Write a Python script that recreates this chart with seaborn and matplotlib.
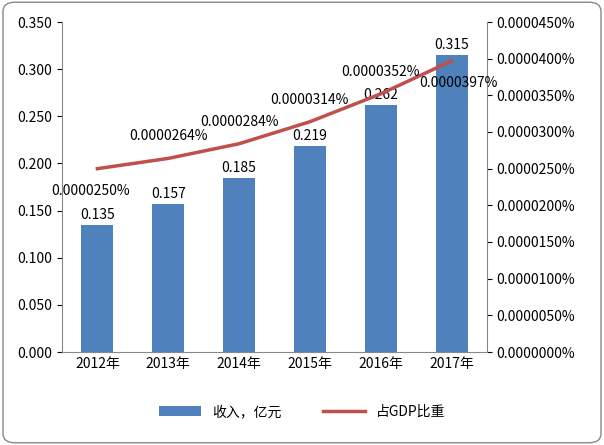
import matplotlib
matplotlib.use("Agg")
import matplotlib.pyplot as plt
from matplotlib.patches import FancyBboxPatch
import seaborn as sns
import pandas as pd

years = ["2012年", "2013年", "2014年", "2015年", "2016年", "2017年"]
income = [0.135, 0.157, 0.185, 0.219, 0.262, 0.315]
gdp_share = [0.0000250, 0.0000264, 0.0000284, 0.0000314, 0.0000352, 0.0000397]
gdp_labels = ["0.0000250%", "0.0000264%", "0.0000284%", "0.0000314%", "0.0000352%", "0.0000397%"]

plt.rcParams["font.family"] = ["Noto Sans CJK SC"]
fig = plt.figure(figsize=(6.04, 4.45), dpi=100)
fig.patches.append(FancyBboxPatch((0.005, 0.005), 0.99, 0.99, boxstyle="round,pad=0,rounding_size=0.02",
                                  transform=fig.transFigure, fc="white", ec="#888888", lw=1, zorder=-10))
ax = fig.add_axes([62/604, 93/445, 425/604, 330/445])
ax.set_facecolor("none")
df = pd.DataFrame({"year": years, "income": income})
sns.barplot(data=df, x="year", y="income", color="#4F81BD", width=0.45, ax=ax, saturation=1,
            label="收入，亿元")
ax.set_ylim(0, 0.35)
ax.set_yticks([i*0.05 for i in range(8)])
ax.set_yticklabels([f"{i*0.05:.3f}" for i in range(8)], fontsize=10)
ax.set_xlabel(""); ax.set_ylabel("")
ax.tick_params(axis="x", labelsize=10, length=0)
for i, v in enumerate(income):
    ax.text(i, v + 0.003, f"{v:.3f}", ha="center", va="bottom", fontsize=10)
for s in ["top", "right"]:
    ax.spines[s].set_visible(False)
for s in ["left", "bottom"]:
    ax.spines[s].set_color("#888888")

ax2 = ax.twinx()
sns.lineplot(x=list(range(6)), y=gdp_share, color="#C0504D", lw=2.5, ax=ax2, label="占GDP比重")
ax2.set_ylim(0, 0.000045)
ax2.set_yticks([i*0.000005 for i in range(10)])
ax2.set_yticklabels([f"{i*0.0000050:.7f}%" for i in range(10)], fontsize=10)
for s in ["top", "left"]:
    ax2.spines[s].set_visible(False)
ax2.spines["right"].set_color("#888888")
ax2.spines["bottom"].set_visible(False)
offs = [(-0.1, -0.0000030), (0, 0.0000030), (0, 0.0000030), (0, 0.0000030), (0, 0.0000030), (0.1, -0.0000030)]
for i, (v, lab) in enumerate(zip(gdp_share, gdp_labels)):
    ax2.text(i + offs[i][0], v + offs[i][1], lab, ha="center", va="center", fontsize=10)
ax2.get_legend().remove()
ax.set_xlim(-0.5, 5.5)

h1, l1 = ax.get_legend_handles_labels()
h2, l2 = ax2.get_legend_handles_labels()
if ax.get_legend(): ax.get_legend().remove()
fig.legend(h1 + h2, l1 + l2, loc="center", bbox_to_anchor=(0.5, 33/445), ncol=2, frameon=False,
           fontsize=10, handlelength=3, columnspacing=3)
fig.savefig("out.png", dpi=100)
